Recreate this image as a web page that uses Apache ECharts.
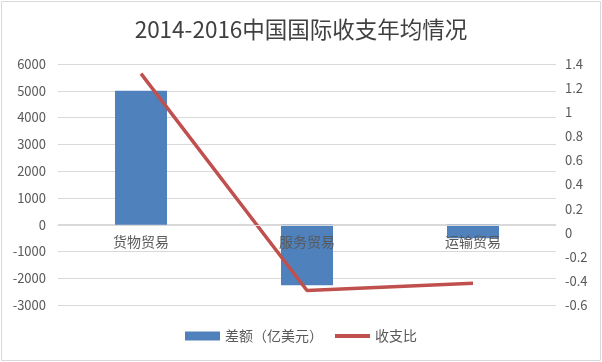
<!DOCTYPE html>
<html>
<head>
<meta charset="utf-8">
<script src="https://cdn.jsdelivr.net/npm/echarts@6/dist/echarts.min.js"></script>
<style>
html,body{margin:0;padding:0;background:#fff;}
#main{width:602px;height:362px;}
</style>
</head>
<body>
<div id="main"></div>
<script>
var titleText = '2014-2016中国国际收支年均情况';
var categories = ['货物贸易', '服务贸易', '运输贸易'];
var diffValues = [5000, -2260, -510];
var ratioValues = [1.32, -0.48, -0.42];
var seriesNames = ['差额（亿美元）', '收支比'];

var chart = echarts.init(document.getElementById('main'));
var labelColor = '#595959';
var font = '"Noto Sans CJK SC", "Liberation Sans", sans-serif';
chart.setOption({
  animation: false,
  textStyle: {fontFamily: font},
  title: {
    text: titleText,
    left: 'center',
    top: 13,
    textStyle: {fontSize: 22.5, fontWeight: 'normal', color: '#404040', fontFamily: font}
  },
  graphic: [{
    type: 'rect',
    shape: {x: 1.5, y: 1.5, width: 599, height: 359},
    style: {fill: 'none', stroke: '#d9d9d9', lineWidth: 1},
    silent: true
  }],
  legend: {
    bottom: 14,
    left: 'center',
    itemWidth: 35,
    itemHeight: 9,
    itemGap: 10,
    textStyle: {fontSize: 14, color: labelColor, fontFamily: font},
    data: [
      {name: seriesNames[0], icon: 'rect'},
      {name: seriesNames[1], itemStyle: {opacity: 0}, lineStyle: {width: 4, color: '#C0504D'}}
    ]
  },
  grid: {left: 58, right: 46, top: 64, bottom: 57},
  xAxis: {
    type: 'category',
    data: categories,
    offset: -80,
    z: 10,
    axisLine: {onZero: false, lineStyle: {color: '#d9d9d9'}},
    axisTick: {show: false},
    axisLabel: {color: labelColor, fontSize: 14, margin: 10, fontFamily: font}
  },
  yAxis: [{
    type: 'value',
    min: -3000, max: 6000, interval: 1000,
    axisLine: {show: false},
    axisTick: {show: false},
    splitLine: {lineStyle: {color: '#d9d9d9'}},
    axisLabel: {color: labelColor, fontSize: 13, margin: 12, fontFamily: font,
      formatter: function (v) { return String(v); }}
  }, {
    type: 'value',
    min: -0.6, max: 1.4, interval: 0.2,
    axisLine: {show: false},
    axisTick: {show: false},
    splitLine: {show: false},
    axisLabel: {color: labelColor, fontSize: 13, margin: 9, fontFamily: font,
      formatter: function (v) { return String(Math.round(v * 10) / 10); }}
  }],
  series: [{
    name: seriesNames[0],
    type: 'bar',
    data: diffValues,
    barWidth: 52,
    z: 2,
    itemStyle: {color: '#4F81BD'}
  }, {
    name: seriesNames[1],
    type: 'line',
    yAxisIndex: 1,
    data: ratioValues,
    symbol: 'none',
    lineStyle: {color: '#C0504D', width: 3.5},
    itemStyle: {color: '#C0504D'},
    z: 3
  }]
});
</script>
</body>
</html>
